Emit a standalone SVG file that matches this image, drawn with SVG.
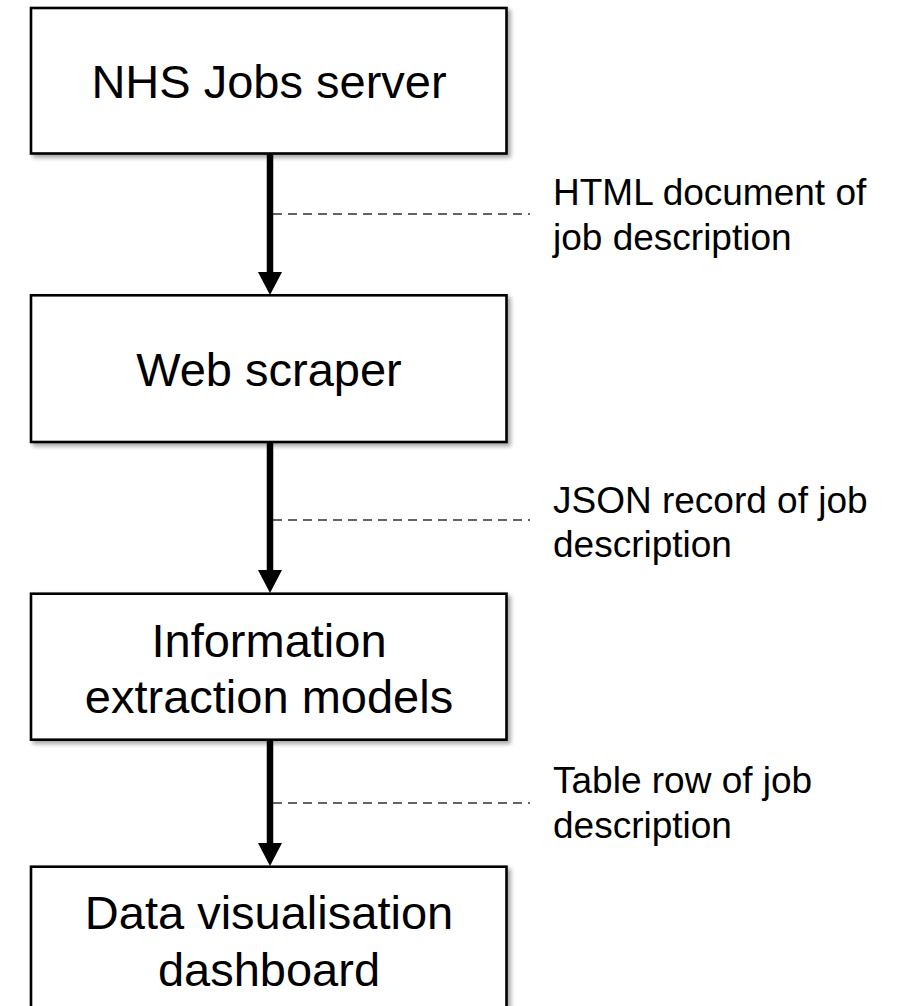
<svg xmlns="http://www.w3.org/2000/svg" width="897" height="1006" viewBox="0 0 897 1006">
<style>
.box{fill:#ffffff;stroke:#000000;stroke-width:2.6;filter:url(#sh)}
.nt{font-family:"Liberation Sans",Arial,sans-serif;font-size:47px;fill:#000000;text-anchor:middle}
.lt{font-family:"Liberation Sans",Arial,sans-serif;font-size:37px;fill:#000000}
.shaft{stroke:#000000;stroke-width:6.5;fill:none}
.head{fill:#000000}
.dash{stroke:#303030;stroke-width:1.5;stroke-dasharray:9 6;fill:none}
</style>
<defs>
<filter id="sh" x="-5%" y="-5%" width="115%" height="120%">
<feDropShadow dx="3" dy="3" stdDeviation="2" flood-color="#000000" flood-opacity="0.35"/>
</filter>
</defs>
<rect width="897" height="1006" fill="#ffffff"/>
<g id="connectors">
<g id="c1">
<line class="shaft" x1="270" y1="153" x2="270" y2="274"/>
<polygon class="head" points="258,272 282,272 270,295"/>
<line class="dash" x1="273" y1="214" x2="530" y2="214"/>
</g>
<g id="c2">
<line class="shaft" x1="270" y1="442" x2="270" y2="572"/>
<polygon class="head" points="258,570 282,570 270,593"/>
<line class="dash" x1="273" y1="520" x2="530" y2="520"/>
</g>
<g id="c3">
<line class="shaft" x1="270" y1="739" x2="270" y2="845"/>
<polygon class="head" points="258,843 282,843 270,866"/>
<line class="dash" x1="273" y1="803" x2="530" y2="803"/>
</g>
</g>
<g id="labels">
<g id="l1"><text class="lt" x="553" y="205">HTML document of</text><text class="lt" x="553" y="250">job description</text></g>
<g id="l2"><text class="lt" x="553" y="513">JSON record of job</text><text class="lt" x="553" y="557">description</text></g>
<g id="l3"><text class="lt" x="553" y="793">Table row of job</text><text class="lt" x="553" y="838">description</text></g>
</g>
<g id="n1"><rect class="box" x="31" y="8" width="475.5" height="145.5"/><text class="nt" x="269" y="98">NHS Jobs server</text></g>
<g id="n2"><rect class="box" x="31" y="295.3" width="475.5" height="146.7"/><text class="nt" x="269" y="386">Web scraper</text></g>
<g id="n3"><rect class="box" x="31" y="593.7" width="475.5" height="146"/><text class="nt" x="269" y="657">Information</text><text class="nt" x="269" y="713">extraction models</text></g>
<g id="n4"><rect class="box" x="31" y="866.7" width="475.5" height="146"/><text class="nt" x="269" y="929">Data visualisation</text><text class="nt" x="269" y="986">dashboard</text></g>
</svg>
